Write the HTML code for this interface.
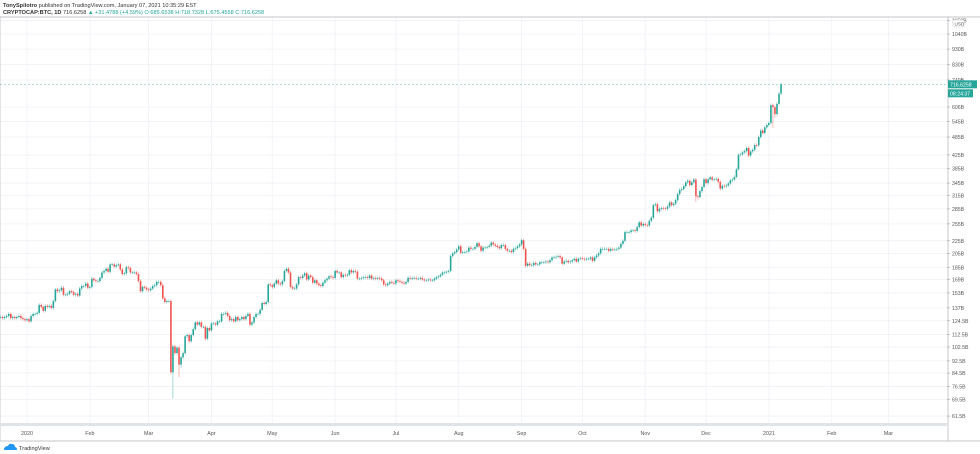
<!DOCTYPE html>
<html><head><meta charset="utf-8"><style>
body{margin:0;background:#fff;font-family:"Liberation Sans",sans-serif;}
svg{display:block}
</style></head><body>
<svg id="c" width="980" height="454" xmlns="http://www.w3.org/2000/svg">
<rect width="980" height="454" fill="#fff"/>
<text x="3" y="7" font-size="5.6" fill="#333"><tspan font-weight="bold">TonySpilotro</tspan> published on TradingView.com, January 07, 2021 10:35:29 EST</text>
<text x="3" y="14" font-size="5.6" fill="#333"><tspan font-weight="bold">CRYPTOCAP:BTC, 1D</tspan> 716.6258 <tspan fill="#26a69a">▲ +31.4788 (+4.59%) O:685.6538 H:718.7328 L:675.4558 C:716.6258</tspan></text>
<g id="grid"></g>
<g id="candles"></g>
<g id="axis"></g>
</svg>
<script>
const months=['2020','Feb','Mar','Apr','May','Jun','Jul','Aug','Sep','Oct','Nov','Dec','2021','Feb','Mar'];
const monthDays=[0,31,60,91,121,152,182,213,244,274,305,335,366,397,425];
const tickLabels=['1150B','1040B','930B','830B','740B','606B','545B','485B','425B','385B','345B','315B','285B','255B','225B','205B','185B','169B','153B','137B','124.5B','112.5B','102.5B','92.5B','84.5B','76.5B','69.5B','61.5B'];
const tickValues=[1150,1040,930,830,740,606,545,485,425,385,345,315,285,255,225,205,185,169,153,137,124.5,112.5,102.5,92.5,84.5,76.5,69.5,61.5];
const startDay=-13;
const closes=[128,127,128,129,131,127,128,127,128,129,127,126,125,
126,124,129,131,131,132,140,138,134,139,138,139,137,144,157,155,156,159,151,151,152,155,154,151,152,150,158,161,161,164,159,
160,170,168,167,167,171,178,180,183,179,189,189,186,188,189,182,176,177,185,184,178,178,178,176,167,155,160,159,157,
156,158,161,162,166,166,162,147,143,144,144,85,103,98,102,90,95,98,111,112,107,112,117,123,121,123,119,119,109,118,116,
122,122,121,124,124,131,131,132,129,125,126,124,128,125,126,128,126,129,131,121,123,128,131,131,135,142,141,143,163,162,
160,164,168,164,163,167,180,183,178,160,158,158,163,172,171,174,177,169,174,172,165,168,164,162,161,165,168,170,173,172,171,
180,178,178,172,175,174,175,181,178,180,179,170,170,171,172,172,171,174,170,171,170,171,170,168,163,162,164,166,165,164,
168,167,166,165,164,166,171,170,171,171,170,170,171,169,168,168,169,168,168,170,172,173,175,178,178,179,180,201,205,207,211,
216,206,207,207,208,214,212,212,215,221,216,209,214,214,215,217,222,219,217,215,213,218,218,212,209,209,207,212,213,216,219,
226,212,187,190,188,188,191,189,189,192,192,192,193,192,195,199,199,200,201,199,190,193,194,192,193,195,197,193,197,198,
197,196,197,197,199,194,199,202,205,212,212,212,212,209,212,211,211,212,214,220,225,240,240,240,243,243,242,249,258,252,255,
253,252,261,267,293,295,280,285,287,286,285,290,299,293,296,304,318,328,330,337,347,351,340,347,354,313,311,325,335,355,
345,355,360,354,355,356,348,331,338,337,339,344,352,354,361,382,425,427,433,437,447,423,436,441,457,456,485,509,500,521,530,
538,614,605,575,620,669,716.6258];
const wickDays=[72,75,76,330,331,368,369];
const wickLows=[70,82,88,300,305,520,560];
const NS="http://www.w3.org/2000/svg";
const X0=27,PX=2.027,Y0=34,V0=1040,K=135.1,LEFT=0,RIGHT=947,TOP=17,BOT=423;
const xs=d=>X0+PX*d;
const ys=v=>Y0+K*(Math.log(V0)-Math.log(v));
function mk(p,tag,attrs){const e=document.createElementNS(NS,tag);for(const k in attrs)e.setAttribute(k,attrs[k]);p.appendChild(e);return e;}
const grid=document.getElementById('grid'),cg=document.getElementById('candles'),ax=document.getElementById('axis');
tickValues.forEach((v,i)=>{const y=ys(v);
 const l=mk(grid,'line',{x1:LEFT,x2:RIGHT,y1:y,y2:y,stroke:'#eef1f6','stroke-width':0.8});
 
 
 const tk=mk(ax,'line',{x1:RIGHT,x2:RIGHT+3,y1:y,y2:y,stroke:'#999','stroke-width':0.6});
 
 
 const t=mk(ax,'text',{x:RIGHT+5,y:y+2,'font-size':5.2,fill:'#555'});t.textContent=tickLabels[i];
 
 
});
months.forEach((m,i)=>{const x=xs(monthDays[i]);
 const l=mk(grid,'line',{x1:x,x2:x,y1:TOP,y2:BOT,stroke:'#eef1f6','stroke-width':0.8});
 
 
 const t=mk(ax,'text',{x:x,y:435,'font-size':5.4,fill:'#555','text-anchor':'middle'});t.textContent=m;
 
 
});
// frame
[[0,TOP,0,441],[RIGHT+1,TOP,RIGHT+1,441],[0,441,980,441],[0,TOP,980,TOP]].forEach(a=>{
 const l=mk(ax,'line',{x1:a[0],y1:a[1],x2:a[2],y2:a[3],stroke:'#b0b3b8','stroke-width':0.7});
 
 
});
const sb=mk(ax,'rect',{x:0,y:423,width:RIGHT,height:3,fill:'#e0e3e8'});


closes.forEach((c,i)=>{
 const o=i===0?c:closes[i-1];const d=startDay+i;const x=xs(d);
 const up=c>=o,col=up?'#26a69a':'#ef5350';
 let hi=Math.max(o,c)*1.012,lo=Math.min(o,c)*0.988;
 const w=wickDays.indexOf(d); if(w>=0) lo=wickLows[w];
 const wk=mk(cg,'line',{x1:x,x2:x,y1:ys(hi),y2:ys(lo),stroke:col,'stroke-width':0.5,opacity:0.8});
 
 
 const yt=ys(Math.max(o,c)),yb=ys(Math.min(o,c));
 const b=mk(cg,'rect',{x:x-0.8,y:yt,width:1.6,height:Math.max(0.6,yb-yt),fill:col});
 
 
});
const last=closes[closes.length-1],ly=ys(last);
const pl=mk(ax,'line',{x1:0,x2:RIGHT,y1:ly,y2:ly,stroke:'#26a69a','stroke-width':0.5,'stroke-dasharray':'2,2',opacity:0.7});


const pb=mk(ax,'rect',{x:RIGHT+1,y:ly-4,width:29,height:8,fill:'#26a69a'});


const pt=mk(ax,'text',{x:RIGHT+3,y:ly+2,'font-size':5.2,fill:'#fff'});pt.textContent='716.6258';


const cb=mk(ax,'rect',{x:RIGHT+1,y:ly+5,width:25,height:8,fill:'#26a69a'});


const ct=mk(ax,'text',{x:RIGHT+3,y:ly+11,'font-size':5.2,fill:'#fff'});ct.textContent='08:24:37';


const ub=mk(ax,'rect',{x:RIGHT+6,y:20,width:11,height:7,fill:'#fff',stroke:'#ccc','stroke-width':0.5,rx:1});


const ut=mk(ax,'text',{x:RIGHT+7.5,y:25.5,'font-size':4.6,fill:'#555'});ut.textContent='USD';


const logo=mk(ax,'path',{d:'M4 450 q0-4 4-4 q1-3 4-2 q3 0 3 3 q2 0 2 3 z',fill:'#2196f3'});


const lt=mk(ax,'text',{x:19,y:450,'font-size':5.6,fill:'#333'});lt.textContent='TradingView';


</script>
</body></html>
